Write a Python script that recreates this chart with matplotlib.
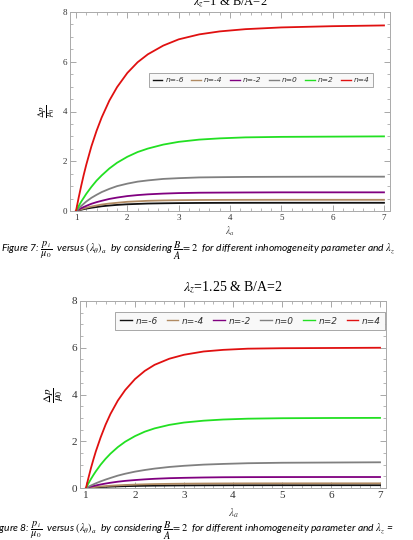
import matplotlib
matplotlib.use("Agg")
import matplotlib.pyplot as plt
from matplotlib.ticker import MultipleLocator

plt.rcParams['font.family'] = ['Liberation Serif', 'DejaVu Serif']
plt.rcParams['mathtext.fontset'] = 'stix'

lam = [1, 1.05, 1.1, 1.15, 1.2, 1.3, 1.4, 1.5, 1.65, 1.8, 2, 2.2, 2.4, 2.7, 3, 3.4, 3.8, 4.3, 5, 6, 7]

labels = ['n=-6', 'n=-4', 'n=-2', 'n=0', 'n=2', 'n=4']
colors = ['#111111', '#b08a62', '#800080', '#808080', '#22e022', '#e01010']

# Figure 7: lambda_z = 1
top_n_m6 = [0, 0.027, 0.05, 0.074, 0.095, 0.13, 0.16, 0.19, 0.22, 0.245, 0.27, 0.285, 0.3, 0.31, 0.318, 0.324, 0.327, 0.329, 0.33, 0.33, 0.33]
top_n_m4 = [0, 0.036, 0.07, 0.1, 0.13, 0.18, 0.22, 0.26, 0.3, 0.33, 0.37, 0.39, 0.41, 0.425, 0.435, 0.443, 0.446, 0.448, 0.45, 0.45, 0.45]
top_n_m2 = [0, 0.058, 0.11, 0.16, 0.205, 0.29, 0.355, 0.41, 0.485, 0.54, 0.6, 0.64, 0.67, 0.7, 0.72, 0.735, 0.74, 0.745, 0.75, 0.75, 0.75]
top_n_0 = [0, 0.106, 0.2, 0.29, 0.38, 0.53, 0.65, 0.76, 0.89, 1.0, 1.1, 1.18, 1.23, 1.29, 1.32, 1.35, 1.36, 1.37, 1.375, 1.38, 1.38]
top_n_2 = [0, 0.19, 0.37, 0.53, 0.69, 0.97, 1.22, 1.43, 1.71, 1.94, 2.18, 2.37, 2.51, 2.67, 2.78, 2.87, 2.92, 2.96, 2.98, 2.99, 3.0]
top_n_4 = [0, 0.52, 1.0, 1.45, 1.86, 2.6, 3.22, 3.76, 4.44, 4.98, 5.55, 5.98, 6.3, 6.65, 6.9, 7.1, 7.22, 7.31, 7.38, 7.43, 7.46]

# Figure 8: lambda_z = 1.25
bot_n_m6 = [0, 0.008, 0.015, 0.021, 0.028, 0.039, 0.049, 0.058, 0.069, 0.078, 0.087, 0.095, 0.101, 0.107, 0.111, 0.115, 0.117, 0.119, 0.12, 0.12, 0.12]
bot_n_m4 = [0, 0.013, 0.024, 0.035, 0.046, 0.065, 0.081, 0.096, 0.114, 0.13, 0.145, 0.158, 0.168, 0.178, 0.185, 0.191, 0.195, 0.198, 0.199, 0.2, 0.2]
bot_n_m2 = [0, 0.03, 0.058, 0.083, 0.108, 0.152, 0.19, 0.225, 0.27, 0.305, 0.34, 0.37, 0.394, 0.42, 0.435, 0.45, 0.46, 0.465, 0.468, 0.47, 0.47]
bot_n_0 = [0, 0.054, 0.105, 0.153, 0.2, 0.285, 0.36, 0.43, 0.53, 0.61, 0.7, 0.77, 0.83, 0.9, 0.95, 1.0, 1.03, 1.06, 1.08, 1.09, 1.1]
bot_n_2 = [0, 0.2, 0.38, 0.55, 0.71, 1.0, 1.25, 1.47, 1.75, 1.98, 2.22, 2.41, 2.55, 2.7, 2.8, 2.88, 2.93, 2.965, 2.985, 2.995, 3.0]
bot_n_4 = [0, 0.43, 0.84, 1.21, 1.56, 2.17, 2.71, 3.17, 3.74, 4.19, 4.66, 5.01, 5.27, 5.53, 5.7, 5.84, 5.91, 5.96, 5.98, 5.99, 6.0]

top_series = [top_n_m6, top_n_m4, top_n_m2, top_n_0, top_n_2, top_n_4]
bot_series = [bot_n_m6, bot_n_m4, bot_n_m2, bot_n_0, bot_n_2, bot_n_4]

fig = plt.figure(figsize=(4.14, 5.40), dpi=100)
W, H = 414.0, 540.0

cap_font = {'family': ['Lato', 'DejaVu Sans'], 'style': 'italic'}


def style_axes(ax, fs):
    ax.set_ylim(0, 8)
    ax.xaxis.set_major_locator(MultipleLocator(1))
    ax.xaxis.set_minor_locator(MultipleLocator(0.2))
    ax.yaxis.set_major_locator(MultipleLocator(2))
    ax.yaxis.set_minor_locator(MultipleLocator(0.5))
    ax.tick_params(which='both', direction='in', top=True, right=True,
                   color='#999999', labelsize=fs, labelcolor='#333333', pad=2)
    ax.tick_params(which='major', length=4, width=0.6)
    ax.tick_params(which='minor', length=2, width=0.5)
    for s in ax.spines.values():
        s.set_color('#aaaaaa')
        s.set_linewidth(0.7)


def add_legend(ax, anchor, size, colsp):
    leg = ax.legend(loc='center', bbox_to_anchor=anchor, ncol=6,
                    prop={'family': 'DejaVu Sans', 'style': 'italic', 'size': size},
                    handlelength=1.3, handletextpad=0.4, columnspacing=colsp,
                    borderpad=0.5, fancybox=False, framealpha=1)
    leg.get_frame().set_edgecolor('#999999')
    leg.get_frame().set_facecolor('#f8f8f8')
    leg.get_frame().set_linewidth(0.6)
    for t in leg.get_texts():
        t.set_color('#333333')
    for h in leg.get_lines():
        h.set_linewidth(1.0)


# ---- top chart ----
ax1 = fig.add_axes([70 / W, 1 - 211 / H, 320 / W, 199 / H])
for y, c, lab in zip(top_series, colors, labels):
    ax1.plot(lam, y, color=c, lw=1.3, label=lab)
ax1.set_xlim(0.883, 7.117)
style_axes(ax1, 6.5)
add_legend(ax1, (0.597, 0.658), 5.4, 1.0)
fig.text(230 / W, 1 - 2 / H, r'$\lambda_z$=1 & B/A=2', ha='center', va='center', fontsize=9)
fig.text(47 / W, 1 - 111 / H, r'$\dfrac{\Delta p}{\mu_0}$', rotation=90,
         ha='center', va='center', fontsize=6.5)
fig.text(230 / W, 1 - 231 / H, r'$\lambda_a$', ha='center', va='center', fontsize=7, color='#444444')
fig.text(1 / W, 1 - 251 / H,
         r'Figure 7: $\dfrac{p_i}{\mu_0}$  versus $(\lambda_\theta)_a$  by considering $\dfrac{B}{A}=2$  '
         r'for different inhomogeneity parameter and $\lambda_z$',
         ha='left', va='center', fontsize=7.4, **cap_font)

# ---- bottom chart ----
ax2 = fig.add_axes([80 / W, 1 - 488 / H, 306 / W, 187 / H])
for y, c, lab in zip(bot_series, colors, labels):
    ax2.plot(lam, y, color=c, lw=1.3, label=lab)
ax2.set_xlim(0.878, 7.122)
style_axes(ax2, 8)
add_legend(ax2, (0.557, 0.893), 6.5, 1.0)
fig.text(233 / W, 1 - 287 / H, r'$\lambda_z$=1.25 & B/A=2', ha='center', va='center', fontsize=10)
fig.text(54 / W, 1 - 395 / H, r'$\dfrac{\Delta p}{\mu_0}$', rotation=90,
         ha='center', va='center', fontsize=8)
fig.text(233 / W, 1 - 513 / H, r'$\lambda_a$', ha='center', va='center', fontsize=8, color='#444444')
fig.text(-9 / W, 1 - 531 / H,
         r'Figure 8: $\dfrac{p_i}{\mu_0}$  versus $(\lambda_\theta)_a$  by considering $\dfrac{B}{A}=2$  '
         r'for different inhomogeneity parameter and $\lambda_z$ =',
         ha='left', va='center', fontsize=7.4, **cap_font)

fig.savefig('out.png', dpi=100)
